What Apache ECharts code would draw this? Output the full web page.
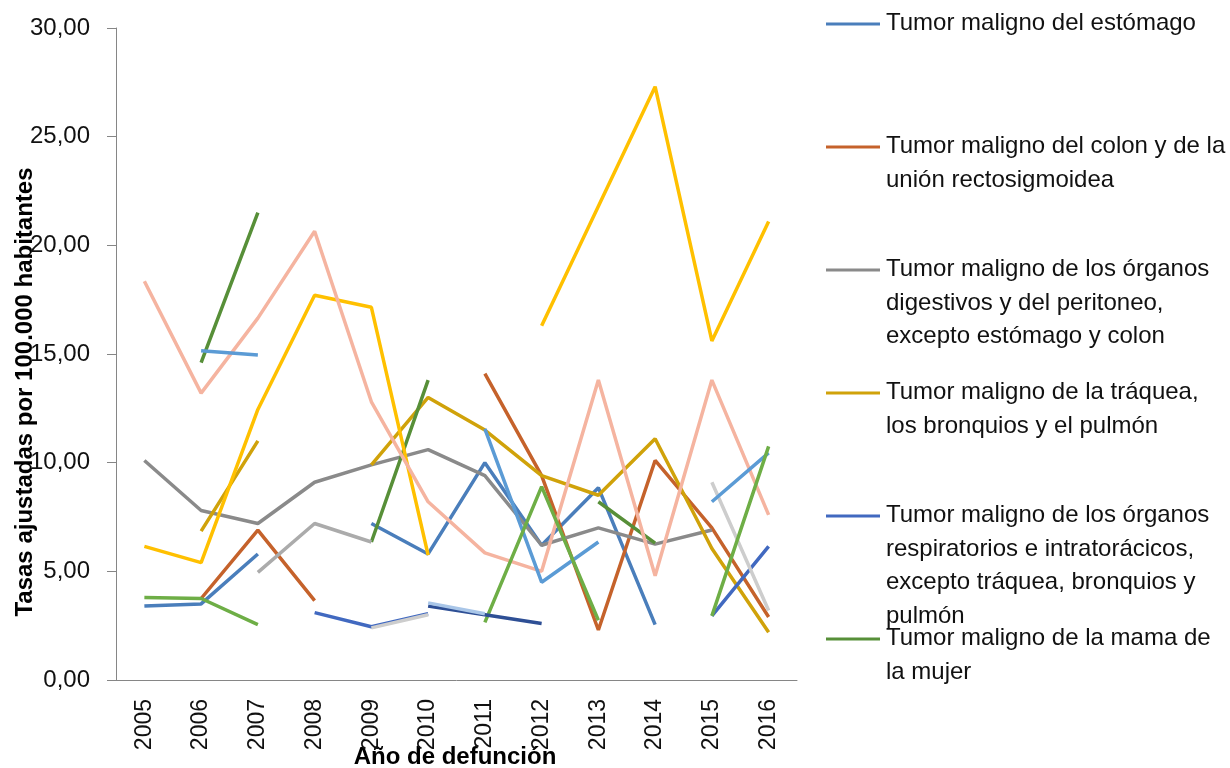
<!DOCTYPE html>
<html>
<head>
<meta charset="utf-8">
<script src="https://cdn.jsdelivr.net/npm/echarts@6/dist/echarts.min.js"></script>
<style>
  html, body { margin: 0; padding: 0; background: #fff; }
  #chart { width: 1230px; height: 768px; }
</style>
</head>
<body>
<div id="chart"></div>
<script>
// años de defunción
const years = ['2005', '2006', '2007', '2008', '2009', '2010', '2011', '2012', '2013', '2014', '2015', '2016']
const yTicks = [0, 5, 10, 15, 20, 25, 30]

// tasas ajustadas por 100.000 habitantes
const estomago = [3.4, 3.5, 5.8, null, 7.2, 5.8, 10.0, 6.2, 8.85, 2.55, null, null]
const colon = [null, 3.75, 6.9, 3.65, null, null, 14.1, 9.4, 2.3, 10.1, 7.0, 2.9]
const digestivos = [10.1, 7.8, 7.2, 9.1, 9.9, 10.6, 9.4, 6.2, 7.0, 6.25, 6.9, null]
const traquea = [null, 6.85, 11.0, null, 9.9, 13.0, 11.5, 9.4, 8.5, 11.1, 6.05, 2.2]
const respiratorios = [null, null, null, 3.1, 2.45, 3.05, null, null, null, null, 2.95, 6.15]
const mama = [null, 14.6, 21.5, null, 6.35, 13.8, null, null, 8.2, 6.3, null, null]
const serieAmarilla = [6.15, 5.4, 12.45, 17.7, 17.15, 5.75, null, 16.3, 21.8, 27.3, 15.6, 21.1]
const serieRosa = [18.35, 13.2, 16.65, 20.65, 12.8, 8.2, 5.85, 5.0, 13.8, 4.8, 13.8, 7.6]
const serieGris = [null, null, 4.95, 7.2, 6.35, null, null, null, null, null, null, null]
const serieGrisClaro = [null, null, null, null, 2.4, 3.0, null, null, null, null, 9.1, 3.2]
const serieAzulClaro = [null, 15.15, 14.95, null, null, null, 11.55, 4.5, 6.35, null, 8.2, 10.45]
const serieVerdeClaro = [3.8, 3.75, 2.55, null, null, null, 2.65, 8.9, 2.75, null, 2.95, 10.75]
const serieAzulOscuro = [null, null, null, null, null, 3.4, 3.0, 2.6, null, null, null, null]
const serieAzulPalido = [null, null, null, null, null, 3.55, 3.05, null, null, null, null, null]

// leyenda (solo las seis primeras series aparecen en el original)
const legendNames = [
    'Tumor maligno del estómago',
    'Tumor maligno del colon y de la\nunión rectosigmoidea',
    'Tumor maligno de los órganos\ndigestivos y del peritoneo,\nexcepto estómago y colon',
    'Tumor maligno de la tráquea,\nlos bronquios y el pulmón',
    'Tumor maligno de los órganos\nrespiratorios e intratorácicos,\nexcepto tráquea, bronquios y\npulmón',
    'Tumor maligno de la mama de\nla mujer'
]

const seriesDefs = [
    {name: legendNames[0], data: estomago, color: '#4A7EBB'},
    {name: legendNames[1], data: colon, color: '#C5622B'},
    {name: legendNames[2], data: digestivos, color: '#8A8A8A'},
    {name: legendNames[3], data: traquea, color: '#D0A20A'},
    {name: legendNames[4], data: respiratorios, color: '#4169C0'},
    {name: legendNames[5], data: mama, color: '#578F38'},
    {name: 'Serie 7', data: serieAmarilla, color: '#FFC000'},
    {name: 'Serie 8', data: serieRosa, color: '#F5B4A0'},
    {name: 'Serie 9', data: serieGris, color: '#ABABAB'},
    {name: 'Serie 10', data: serieGrisClaro, color: '#CDCDCD'},
    {name: 'Serie 11', data: serieAzulClaro, color: '#5B9BD5'},
    {name: 'Serie 12', data: serieVerdeClaro, color: '#6EAE46'},
    {name: 'Serie 13', data: serieAzulOscuro, color: '#2E4F95'},
    {name: 'Serie 14', data: serieAzulPalido, color: '#A9C6E8'}
]

const font = 'Liberation Sans, Arial, sans-serif'
const legendColors = seriesDefs.slice(0, 6).map(s => s.color)

// leyenda dibujada a mano: espaciado fijo como en Excel
let legendGraphics = []
legendNames.forEach((name, i) => {
    const y = 24 + i * 123
    legendGraphics.push({
        type: 'line',
        shape: {x1: 826, y1: y, x2: 880, y2: y},
        style: {stroke: legendColors[i], lineWidth: 3}
    })
    legendGraphics.push({
        type: 'text',
        x: 886,
        y: y - 17,
        style: {
            text: name,
            font: '24px ' + font,
            fill: '#111',
            lineHeight: 33.5,
            textVerticalAlign: 'top'
        }
    })
})

const chart = echarts.init(document.getElementById('chart'))

chart.setOption({
    animation: false,
    backgroundColor: '#ffffff',
    textStyle: {fontFamily: font},
    grid: {left: 116, right: 433, top: 28, bottom: 88},
    xAxis: {
        type: 'category',
        data: years,
        boundaryGap: true,
        axisLine: {lineStyle: {color: '#868686', width: 1}},
        axisTick: {length: 10, lineStyle: {color: '#868686'}},
        axisLabel: {rotate: 90, fontSize: 23, color: '#111', margin: 19}
    },
    yAxis: {
        type: 'value',
        min: yTicks[0],
        max: yTicks[yTicks.length - 1],
        interval: yTicks[1] - yTicks[0],
        splitLine: {show: false},
        axisLine: {show: true, lineStyle: {color: '#868686', width: 1}},
        axisTick: {show: true, length: 9, lineStyle: {color: '#868686'}},
        axisLabel: {
            fontSize: 24,
            color: '#111',
            margin: 26,
            formatter: function(value) {
                return value.toFixed(2).replace('.', ',')
            }
        }
    },
    graphic: [
        {
            type: 'text',
            x: 25,
            y: 392,
            rotation: Math.PI / 2,
            style: {
                text: 'Tasas ajustadas por 100.000 habitantes',
                font: 'bold 24px ' + font,
                fill: '#000',
                textAlign: 'center',
                textVerticalAlign: 'middle'
            }
        },
        {
            type: 'text',
            x: 455,
            y: 757,
            style: {
                text: 'Año de defunción',
                font: 'bold 24px ' + font,
                fill: '#000',
                textAlign: 'center',
                textVerticalAlign: 'middle'
            }
        }
    ].concat(legendGraphics),
    series: seriesDefs.map(s => ({
        name: s.name,
        type: 'line',
        data: s.data,
        connectNulls: false,
        showSymbol: false,
        symbol: 'none',
        lineStyle: {color: s.color, width: 3.5},
        itemStyle: {color: s.color}
    }))
})
</script>
</body>
</html>
